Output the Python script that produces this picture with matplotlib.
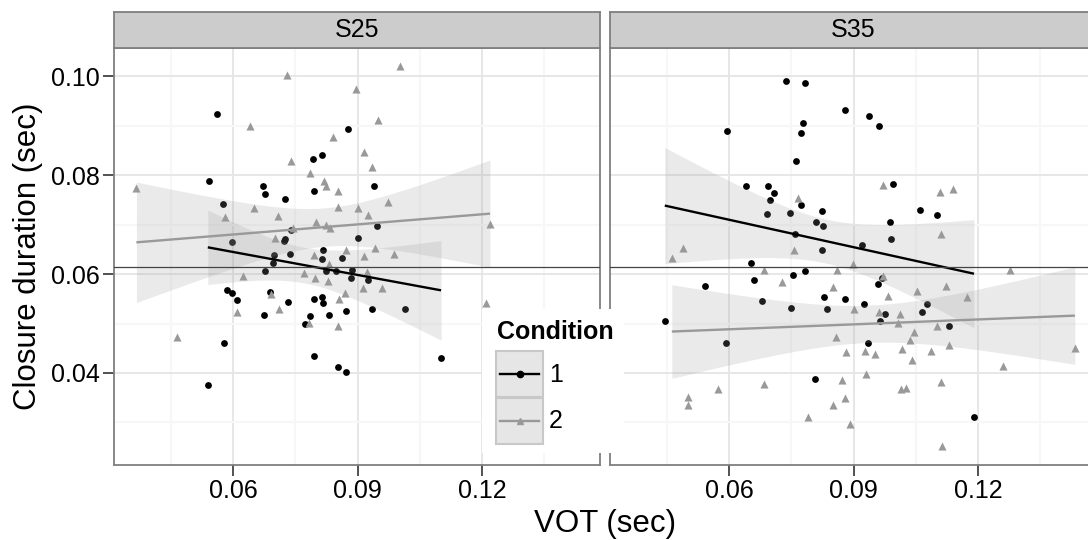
import numpy as np
import matplotlib
matplotlib.use('Agg')
import matplotlib.pyplot as plt
from matplotlib.patches import Rectangle

plt.rcParams['font.family'] = ['Liberation Sans', 'DejaVu Sans']

# ---- data (VOT, closure duration) ----
facets = ['S25', 'S35']

s25_c1_vot = [0.0560, 0.0543, 0.0673, 0.0678, 0.0576, 0.0724, 0.0792, 0.0813, 0.0877, 0.0796,
              0.0900, 0.0939, 0.0946, 0.0598, 0.0722, 0.0724, 0.0740, 0.0699, 0.0738, 0.0696,
              0.0677, 0.0817, 0.0815, 0.0863, 0.0823, 0.0849, 0.0887, 0.0885, 0.0586, 0.0598,
              0.0609, 0.0688, 0.0733, 0.0795, 0.0813, 0.0817, 0.0675, 0.0785, 0.0774, 0.0831,
              0.0873, 0.0579, 0.0795, 0.0853, 0.0872, 0.0539, 0.0925, 0.0935, 0.1014, 0.1101]
s25_c1_clo = [0.0923, 0.0789, 0.0778, 0.0761, 0.0742, 0.0752, 0.0833, 0.0840, 0.0894, 0.0767,
              0.0673, 0.0778, 0.0697, 0.0664, 0.0666, 0.0670, 0.0690, 0.0639, 0.0640, 0.0622,
              0.0607, 0.0648, 0.0631, 0.0632, 0.0607, 0.0606, 0.0609, 0.0592, 0.0568, 0.0562,
              0.0547, 0.0564, 0.0543, 0.0549, 0.0554, 0.0541, 0.0517, 0.0515, 0.0499, 0.0517,
              0.0526, 0.0460, 0.0434, 0.0413, 0.0401, 0.0375, 0.0587, 0.0529, 0.0529, 0.0430]

s25_c2_vot = [0.0729, 0.0895, 0.0640, 0.0841, 0.0740, 0.0785, 0.0820, 0.0824, 0.0852, 0.0367,
              0.0651, 0.0581, 0.0708, 0.0853, 0.0902, 0.0800, 0.0825, 0.0834, 0.0745, 0.0701,
              0.1001, 0.0948, 0.0916, 0.0934, 0.0974, 0.0926, 0.1219, 0.0794, 0.0872, 0.0831,
              0.0772, 0.0797, 0.0829, 0.0623, 0.0691, 0.0610, 0.0710, 0.0870, 0.0855, 0.0784,
              0.0853, 0.0466, 0.0916, 0.0941, 0.0987, 0.0922, 0.0913, 0.0959, 0.1210]
s25_c2_clo = [0.1002, 0.0975, 0.0900, 0.0877, 0.0829, 0.0805, 0.0789, 0.0778, 0.0768, 0.0774,
              0.0733, 0.0716, 0.0718, 0.0736, 0.0733, 0.0706, 0.0700, 0.0694, 0.0694, 0.0672,
              0.1021, 0.0911, 0.0846, 0.0816, 0.0745, 0.0719, 0.0701, 0.0639, 0.0648, 0.0621,
              0.0603, 0.0592, 0.0586, 0.0597, 0.0560, 0.0524, 0.0529, 0.0562, 0.0549, 0.0502,
              0.0495, 0.0472, 0.0636, 0.0652, 0.0640, 0.0605, 0.0572, 0.0572, 0.0542]

s35_c1_vot = [0.0737, 0.0783, 0.0879, 0.0595, 0.0777, 0.0773, 0.0762, 0.0640, 0.0694, 0.0708,
              0.0698, 0.0773, 0.0824, 0.0691, 0.0747, 0.0809, 0.0827, 0.0758, 0.0936, 0.0960,
              0.0996, 0.1061, 0.1101, 0.0987, 0.0990, 0.0824, 0.0652, 0.0659, 0.0754, 0.0783,
              0.0543, 0.0679, 0.0749, 0.0828, 0.0835, 0.0879, 0.0445, 0.0592, 0.0806, 0.0921,
              0.0958, 0.0968, 0.0925, 0.0976, 0.0963, 0.1077, 0.1065, 0.1129, 0.0935, 0.1190]
s35_c1_clo = [0.0990, 0.0987, 0.0932, 0.0890, 0.0906, 0.0885, 0.0828, 0.0778, 0.0778, 0.0764,
              0.0749, 0.0739, 0.0727, 0.0721, 0.0724, 0.0705, 0.0698, 0.0680, 0.0920, 0.0900,
              0.0782, 0.0729, 0.0719, 0.0705, 0.0670, 0.0649, 0.0622, 0.0589, 0.0599, 0.0607,
              0.0575, 0.0546, 0.0531, 0.0554, 0.0529, 0.0549, 0.0505, 0.0461, 0.0387, 0.0659,
              0.0580, 0.0593, 0.0539, 0.0520, 0.0506, 0.0539, 0.0524, 0.0496, 0.0461, 0.0311]

s35_c2_vot = [0.0767, 0.0971, 0.1108, 0.1140, 0.1110, 0.0488, 0.0462, 0.0756, 0.0685, 0.0727,
              0.0860, 0.0898, 0.0851, 0.0902, 0.0858, 0.0882, 0.0683, 0.0574, 0.0501, 0.0501,
              0.0872, 0.0879, 0.0850, 0.0789, 0.0892, 0.1277, 0.0971, 0.1053, 0.1122, 0.1174,
              0.0983, 0.0960, 0.1012, 0.1007, 0.1101, 0.1046, 0.1037, 0.1129, 0.1016, 0.1086,
              0.0927, 0.0951, 0.1041, 0.1260, 0.1433, 0.0931, 0.1110, 0.1013, 0.1026, 0.1114]
s35_c2_clo = [0.0753, 0.0780, 0.0765, 0.0771, 0.0681, 0.0653, 0.0633, 0.0648, 0.0609, 0.0584,
              0.0609, 0.0621, 0.0573, 0.0530, 0.0473, 0.0443, 0.0377, 0.0368, 0.0351, 0.0335,
              0.0386, 0.0349, 0.0335, 0.0311, 0.0296, 0.0608, 0.0596, 0.0566, 0.0575, 0.0554,
              0.0556, 0.0524, 0.0520, 0.0502, 0.0495, 0.0483, 0.0467, 0.0457, 0.0449, 0.0445,
              0.0444, 0.0439, 0.0426, 0.0414, 0.0451, 0.0397, 0.0382, 0.0368, 0.0370, 0.0253]

hline_y = 0.0615
conditions = ['1', '2']

W, H = 1088, 540
C1 = '#000000'
C2 = '#999999'


def px(x, y, w, h):
    # pixel box (top-left origin) -> figure fraction
    return [x / W, 1 - (y + h) / H, w / W, h / H]


def lm_band(x, y, n=100, t=2.01):
    x = np.asarray(x); y = np.asarray(y)
    b, a = np.polyfit(x, y, 1)
    xs = np.linspace(x.min(), x.max(), n)
    yhat = a + b * xs
    resid = y - (a + b * x)
    s = np.sqrt(np.sum(resid ** 2) / (len(x) - 2))
    xbar = x.mean()
    se = s * np.sqrt(1 / len(x) + (xs - xbar) ** 2 / np.sum((x - xbar) ** 2))
    return xs, yhat, yhat - t * se, yhat + t * se


fig = plt.figure(figsize=(W / 100, H / 100), dpi=100)
fig.patch.set_facecolor('white')

panels = [
    (114, (s25_c1_vot, s25_c1_clo), (s25_c2_vot, s25_c2_clo)),
    (610, (s35_c1_vot, s35_c1_clo), (s35_c2_vot, s35_c2_clo)),
]

for i, (x0, d1, d2) in enumerate(panels):
    ax = fig.add_axes(px(x0, 48, 486, 417))
    ax.set_xlim(0.0313, 0.1484)
    ax.set_ylim(0.0214, 0.1057)
    ax.set_xticks([0.06, 0.09, 0.12])
    ax.set_xticklabels(['0.06', '0.09', '0.12'])
    ax.set_xticks([0.045, 0.075, 0.105, 0.135], minor=True)
    ax.set_yticks([0.04, 0.06, 0.08, 0.10])
    ax.set_yticks([0.03, 0.05, 0.07, 0.09], minor=True)
    ax.grid(which='major', color='#E5E5E5', lw=1.3, zorder=0)
    ax.grid(which='minor', color='#F7F7F7', lw=1.6, zorder=0)
    ax.set_axisbelow(True)
    ax.tick_params(which='major', length=8, width=1.2, color='#333333',
                   labelsize=18, pad=2)
    ax.tick_params(which='minor', length=0)
    if i == 0:
        ax.set_yticklabels(['0.10' if v == 0.10 else f'{v:.2f}' for v in [0.04, 0.06, 0.08, 0.10]])
    else:
        ax.tick_params(axis='y', which='both', left=False, labelleft=False)
    for sp in ax.spines.values():
        sp.set_color('#7F7F7F')
        sp.set_linewidth(1.3)

    # points
    ax.scatter(d1[0], d1[1], s=24, marker='o', color=C1, lw=0, zorder=3)
    ax.scatter(d2[0], d2[1], s=34, marker='^', color=C2, lw=0, zorder=3)

    # smooths
    for (vx, vy), col in ((d1, C1), (d2, C2)):
        xs, yh, lo, hi = lm_band(vx, vy)
        ax.fill_between(xs, lo, hi, color='#999999', alpha=0.2, lw=0, zorder=4)
        ax.plot(xs, yh, color=col, lw=1.7, zorder=5, solid_capstyle='butt')

    ax.axhline(hline_y, color='#444444', lw=0.9, zorder=6)

    # strip
    st = fig.add_axes(px(x0, 12, 486, 36))
    st.set_facecolor('#CCCCCC')
    st.set_xticks([]); st.set_yticks([])
    for sp in st.spines.values():
        sp.set_color('#7F7F7F')
        sp.set_linewidth(1.3)
    st.text(0.5, 0.5, facets[i], ha='center', va='center', fontsize=18,
            transform=st.transAxes)

fig.text(28 / W, 1 - 256 / H, 'Closure duration (sec)', rotation=90,
         ha='center', va='center', fontsize=22.5)
fig.text(605 / W, 1 - 524 / H, 'VOT (sec)', ha='center', va='center', fontsize=22.5)

# legend drawn inside the plot area
lg = fig.add_axes(px(482, 309, 142, 144))
lg.set_xlim(0, 142)
lg.set_ylim(144, 0)
lg.set_facecolor('white')
lg.set_xticks([]); lg.set_yticks([])
for sp in lg.spines.values():
    sp.set_visible(False)
lg.text(15, 23, 'Condition', ha='left', va='center', fontsize=18, fontweight='bold')
for k, (lab, col, mk) in enumerate(zip(conditions, [C1, C2], ['o', '^'])):
    ky = 42 + k * 46.5
    lg.add_patch(Rectangle((14, ky), 47, 46, facecolor='#E6E6E6', edgecolor='#C8C8C8', lw=1.5))
    lg.plot([18, 57], [ky + 23, ky + 23], color=col, lw=1.7)
    lg.plot([37.5], [ky + 23], marker=mk, color=col, markersize=4.5, lw=0)
    lg.text(67, ky + 24, lab, ha='left', va='center', fontsize=18)

fig.savefig('out.png', dpi=100, facecolor='white')
